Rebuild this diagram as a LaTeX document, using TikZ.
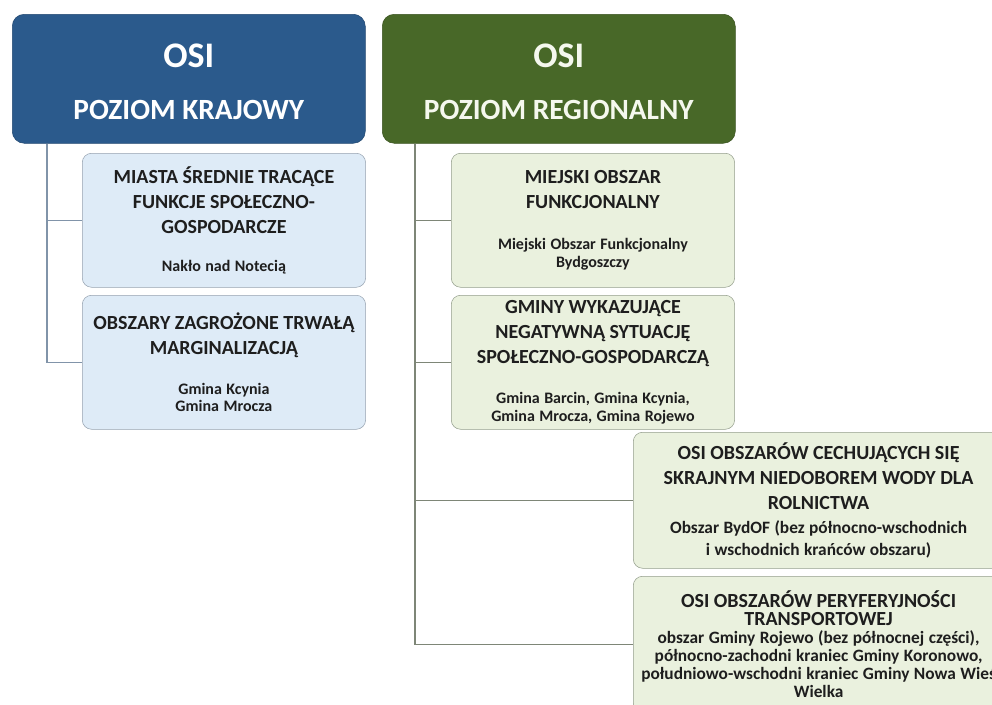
\documentclass[tikz,border=0pt]{standalone}
\usepackage{fontspec}
\setmainfont{Carlito}
\definecolor{headblue}{RGB}{43,90,140}
\definecolor{headgreen}{RGB}{72,104,40}
\definecolor{kfill}{RGB}{222,235,247}
\definecolor{kline}{RGB}{150,162,176}
\definecolor{rfill}{RGB}{234,241,222}
\definecolor{rline}{RGB}{148,158,140}
\definecolor{txt}{RGB}{30,30,30}
\newcommand{\tfont}{\fontsize{15}{18.75}\selectfont}
\newcommand{\sfont}{\fontsize{12}{13}\selectfont}
\tikzset{
  head/.style={rounded corners=9pt, anchor=north west, minimum width=264.75pt,
    minimum height=96.75pt, inner sep=0pt},
  osi/.style={anchor=base, inner sep=0pt, font=\bfseries\fontsize{27}{30}\selectfont},
  poziom/.style={anchor=base, inner sep=0pt, font=\bfseries\fontsize{22}{26}\selectfont},
  lbox/.style={rounded corners=7pt, anchor=north west, minimum width=212.5pt,
    minimum height=100.5pt, text width=208pt, align=center, inner sep=2pt,
    text=txt, font=\bfseries},
  wbox/.style={lbox, minimum width=277.5pt, minimum height=102pt, text width=274pt},
  kbox/.style={draw=kline, fill=kfill},
  rbox/.style={draw=rline, fill=rfill},
  klink/.style={draw=kline!80!headblue, line width=0.8pt},
  rlink/.style={draw=rline!85!black, line width=0.8pt}
}
\begin{document}
\begin{tikzpicture}[x=0.75pt,y=-0.75pt]
\useasboundingbox (0,0) rectangle (992,704);

% naglowki
\node[head, fill=headblue, draw=headblue!80!black] (krajowy) at (12,14) {};
\node[osi, text=white] (kosi) at ([yshift=-39.75pt]krajowy.north) {OSI};
\node[poziom, text=white] (kpoziom) at ([yshift=-78.75pt]krajowy.north) {POZIOM KRAJOWY};
\node[head, fill=headgreen, draw=headgreen!80!black] (regionalny) at (382,14) {};
\node[osi, text=rfill!50!white] (rosi) at ([yshift=-39.75pt]regionalny.north) {OSI};
\node[poziom, text=rfill!50!white] (rpoziom) at ([yshift=-78.75pt]regionalny.north) {POZIOM REGIONALNY};

% poziom krajowy
\node[lbox, kbox] (miasta) at (82,153)
  {\tfont MIASTA ŚREDNIE TRACĄCE\\ FUNKCJE SPOŁECZNO-\\ GOSPODARCZE\par
   \vspace{16pt}\sfont Nakło nad Notecią\par};
\node[lbox, kbox] (zagrozone) at (82,295)
  {\tfont OBSZARY ZAGROŻONE TRWAŁĄ\\ MARGINALIZACJĄ\par
   \vspace{17pt}\sfont Gmina Kcynia\\ Gmina Mrocza\par};

% poziom regionalny
\node[lbox, rbox] (mof) at (451,153)
  {\tfont MIEJSKI OBSZAR\\ FUNKCJONALNY\par
   \vspace{18pt}\sfont Miejski Obszar Funkcjonalny\\ Bydgoszczy\par};
\node[lbox, rbox] (gminy) at (451,295)
  {\tfont GMINY WYKAZUJĄCE\\ NEGATYWNĄ SYTUACJĘ\\ SPOŁECZNO-GOSPODARCZĄ\par
   \vspace{17pt}\sfont Gmina Barcin, Gmina Kcynia,\\ Gmina Mrocza, Gmina Rojewo\par};
\node[wbox, rbox] (woda) at (633,432)
  {\tfont OSI OBSZARÓW CECHUJĄCYCH SIĘ\\ SKRAJNYM NIEDOBOREM WODY DLA\\ ROLNICTWA\par
   \vspace{1pt}\fontsize{13}{17}\selectfont Obszar BydOF (bez północno-wschodnich\\ i wschodnich krańców obszaru)\par};
\node[wbox, rbox] (transport) at (633,576)
  {\fontsize{15}{14}\selectfont OSI OBSZARÓW PERYFERYJNOŚCI\\ TRANSPORTOWEJ\par
   \fontsize{13}{13.5}\selectfont obszar Gminy Rojewo (bez północnej części),\\
   północno-zachodni kraniec Gminy Koronowo,\\
   południowo-wschodni kraniec Gminy Nowa Wieś\\ Wielka\par};

% polaczenia
\coordinate (kt) at ([xshift=26.25pt]krajowy.south west);
\coordinate (rt) at ([xshift=24.75pt]regionalny.south west);
\draw[klink] (kt) |- (miasta.west);
\draw[klink] (kt) |- (zagrozone.west);
\draw[rlink] (rt) |- (mof.west);
\draw[rlink] (rt) |- (gminy.west);
\draw[rlink] (rt) |- (woda.west);
\draw[rlink] (rt) |- (transport.west);
\end{tikzpicture}
\end{document}
